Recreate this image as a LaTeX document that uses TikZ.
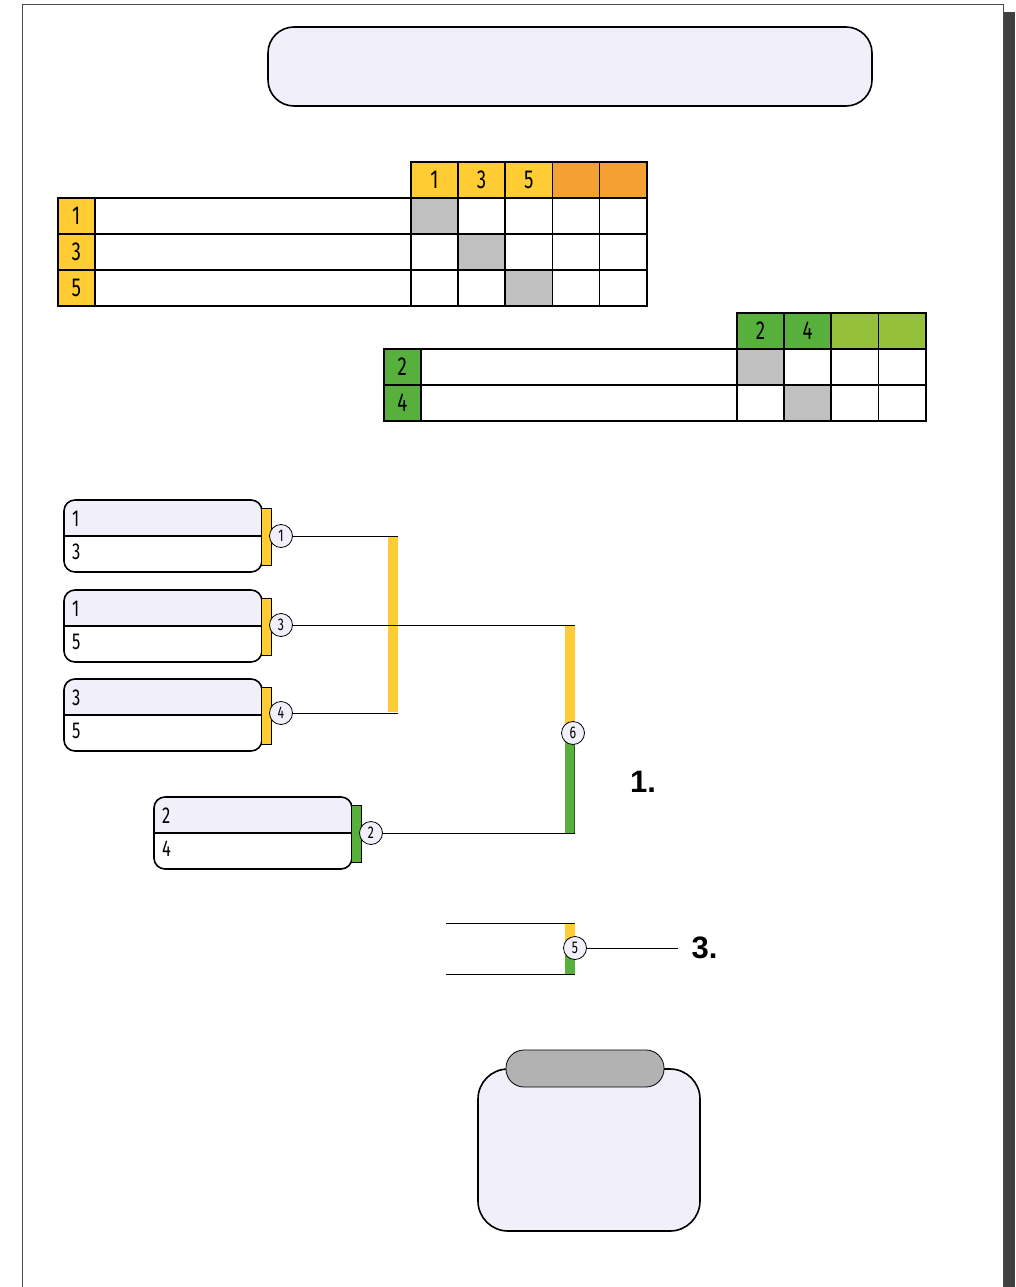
\documentclass[tikz,border=0pt]{standalone}
\usepackage{fontspec}
\setmainfont{Fira Sans}[FakeStretch=0.72]
\newfontfamily\placefont{Liberation Sans}
\usetikzlibrary{positioning, calc}
\definecolor{lavender}{RGB}{240,239,250}
\definecolor{cellyellow}{RGB}{255,204,51}
\definecolor{cellorange}{RGB}{244,160,50}
\definecolor{cellgreen}{RGB}{88,176,60}
\definecolor{celllime}{RGB}{148,192,58}
\definecolor{cellgray}{RGB}{192,192,192}
\definecolor{pillgray}{RGB}{178,178,178}
\definecolor{edgegreen}{RGB}{40,90,30}

\tikzset{
  cell/.style={draw, line width=1.6pt, minimum width=#1, minimum height=36pt,
    inner sep=0pt, anchor=north west, font=\fontsize{26}{26}\selectfont},
  cell/.default=47.2pt,
  entry/.style={anchor=west, inner sep=0pt, font=\fontsize{23}{23}\selectfont},
  seed/.style={circle, draw, fill=lavender, line width=0.8pt, minimum size=23pt,
    inner sep=0pt, font=\fontsize{17}{17}\selectfont},
  wire/.style={line width=0.8pt},
  place/.style={font=\placefont\bfseries\fontsize{31}{31}\selectfont}
}

\begin{document}
\begin{tikzpicture}[x=1pt, y=-1pt]
  \useasboundingbox (0,0) rectangle (1015,1287);
  % page
  \fill[white] (22,4) rectangle (1003,1287);
  \fill[black!75] (1004,12) rectangle (1015,1287);
  \draw[black!70, line width=0.8pt] (22,1287) -- (22,4) -- (1003,4) -- (1003,1287);

  % title
  \draw[fill=lavender, line width=1.6pt, rounded corners=26pt] (268,27) rectangle (872,106);

  % group table 1
  \foreach \n [count=\i from 0] in {1,3,5}
    \node[cell, fill=cellyellow] (ha\n) at (410+47.2*\i,161) {\n};
  \node[cell, fill=cellorange] (ha6) at (551.6,161) {};
  \node[cell, fill=cellorange] (ha7) at (598.8,161) {};
  \foreach \n [count=\r from 0] in {1,3,5} {
    \node[cell=37pt, fill=cellyellow] (la\n) at (57,197+36*\r) {\n};
    \node[cell=316pt] (na\n) at (94,197+36*\r) {};
    \foreach \c in {0,...,4}
      \node[cell] at (410+47.2*\c,197+36*\r) {};
    \node[cell, fill=cellgray] at (410+47.2*\r,197+36*\r) {};
  }

  % group table 2
  \foreach \n [count=\i from 0] in {2,4}
    \node[cell, fill=cellgreen] (hb\n) at (736+47.25*\i,312) {\n};
  \node[cell, fill=celllime] (hb6) at (830.5,312) {};
  \node[cell, fill=celllime] (hb7) at (877.75,312) {};
  \foreach \n [count=\r from 0] in {2,4} {
    \node[cell=37pt, fill=cellgreen] (lb\n) at (383,348+36*\r) {\n};
    \node[cell=316pt] (nb\n) at (420,348+36*\r) {};
    \foreach \c in {0,...,3}
      \node[cell] at (736+47.25*\c,348+36*\r) {};
    \node[cell, fill=cellgray] at (736+47.25*\r,348+36*\r) {};
  }

  % matches
  \foreach \nm/\x/\y/\a/\b/\col in {mA/64/500/1/3/cellyellow, mB/64/590/1/5/cellyellow,
      mC/64/679/3/5/cellyellow, mD/154/797/2/4/cellgreen} {
    \begin{scope}
      \clip[rounded corners=11pt] (\x,\y) rectangle ++(198,72);
      \fill[white] (\x,\y) rectangle ++(198,72);
      \fill[lavender] (\x,\y) rectangle ++(198,36);
    \end{scope}
    \draw[line width=1.6pt, rounded corners=11pt] (\x,\y) rectangle ++(198,72);
    \draw[line width=1.6pt] (\x,\y+36) -- ++(198,0);
    \node[entry] (\nm a) at (\x+8,\y+19) {\a};
    \node[entry] (\nm b) at (\x+8,\y+52) {\b};
    \fill[\col] (\x+198,\y+8) rectangle (\x+207,\y+65);
    \draw[line width=0.8pt] (\x+198,\y+8) -- (\x+207,\y+8) -- (\x+207,\y+65) -- (\x+198,\y+65);
  }

  % bars
  \fill[cellyellow] (388,537) rectangle (398,712);
  \fill[cellyellow] (565,625) rectangle (575,733);
  \fill[cellgreen] (565,733) rectangle (575,833);
  \draw[edgegreen, line width=0.8pt] (574.5,745) -- (574.5,833);
  \fill[cellyellow] (565,923) rectangle (575,948);
  \fill[cellgreen] (565,948) rectangle (575,974);

  % games
  \node[seed] (g1) at (281,536) {1};
  \node[seed] (g3) at (281,625) {3};
  \node[seed] (g4) at (281,713) {4};
  \node[seed] (g2) at (371,833) {2};
  \node[seed] (g6) at (573,733) {6};
  \node[seed] (g5) at (575,948) {5};

  \coordinate (jA) at (398,536);
  \coordinate (jB) at (398,713);
  \coordinate (jC) at (575,625);
  \coordinate (jD) at (575,833);
  \coordinate (sA) at (446,923);
  \coordinate (sB) at (446,974);
  \coordinate (tA) at (575,923);
  \coordinate (tB) at (575,974);
  \coordinate (e5) at (678,948);

  \draw[wire] (g1) -- (jA);
  \draw[wire] (g4) -- (jB);
  \draw[wire] (g3) -- (jC);
  \draw[wire] (g2) -- (jD);
  \draw[wire] (sA) -- (tA);
  \draw[wire] (sB) -- (tB);
  \draw[wire] (g5) -- (e5);

  % places
  \node[place] (p1) at (643,782) {1.};
  \node[place, right=10pt of e5] (p3) {3.};

  % result box
  \draw[fill=lavender, line width=1.6pt, rounded corners=30pt] (478,1069) rectangle (700,1231);
  \draw[fill=pillgray, line width=0.8pt, rounded corners=18pt] (506,1050) rectangle (664,1087);
\end{tikzpicture}
\end{document}
